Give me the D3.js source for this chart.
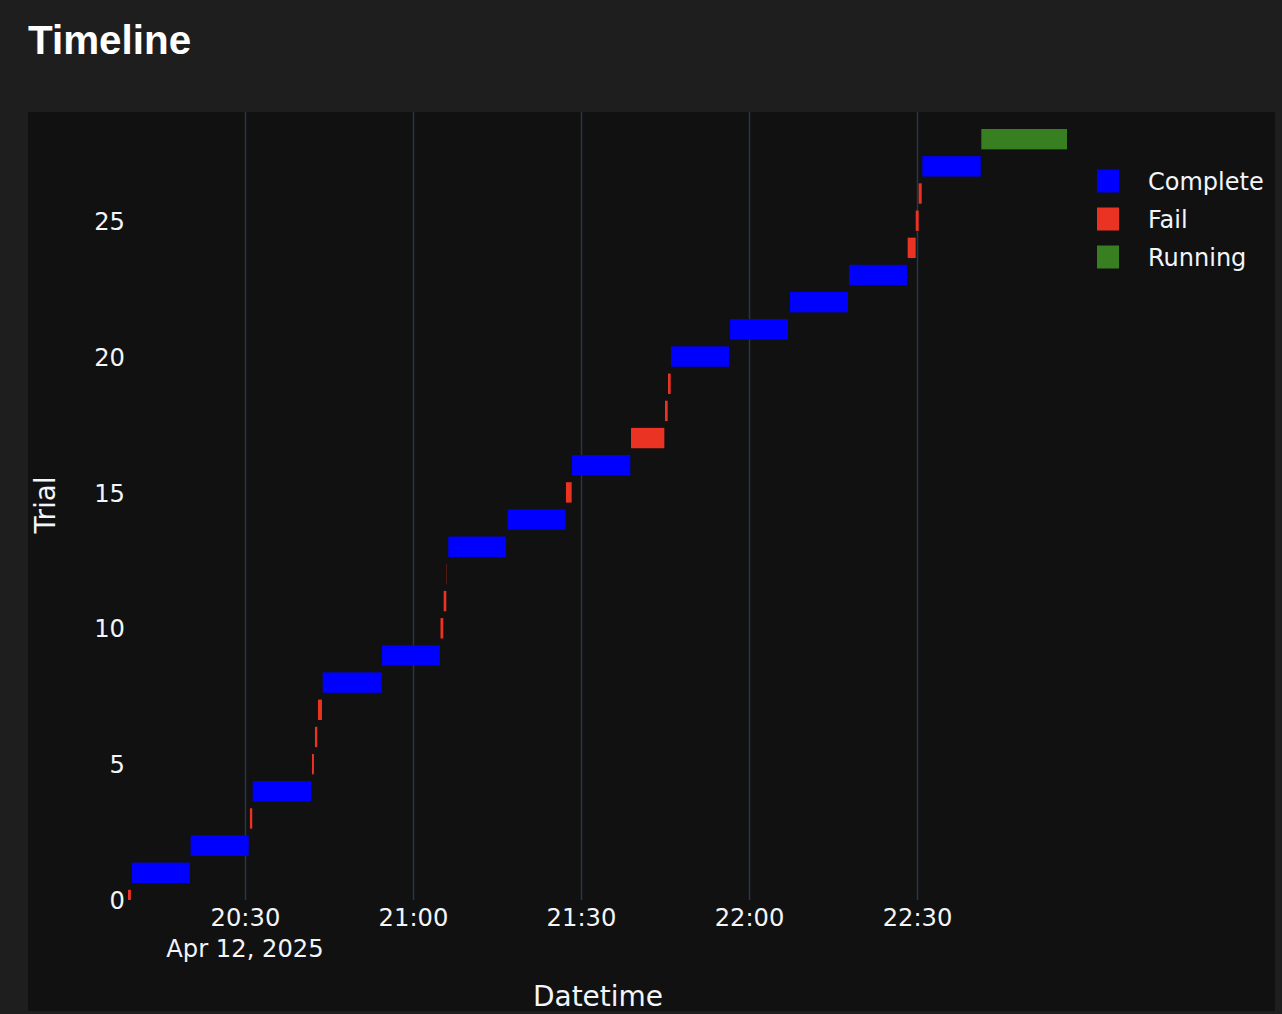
<!DOCTYPE html>
<html>
<head>
<meta charset="utf-8">
<script src="https://cdn.jsdelivr.net/npm/d3@7"></script>
<style>
  html, body { margin: 0; padding: 0; background: #1e1e1e; }
  svg { display: block; }
</style>
</head>
<body>
<svg id="chart"></svg>
<script>
// trial data (Apr 12, 2025)
const trials = d3.range(0, 29);
const states = ["Fail","Complete","Complete","Fail","Complete","Fail","Fail","Fail","Complete","Complete",
  "Fail","Fail","Fail","Complete","Complete","Fail","Complete","Fail","Fail","Fail",
  "Complete","Complete","Complete","Complete","Fail","Fail","Fail","Complete","Running"];
const starts = ["20:09:07","20:09:49","20:20:18","20:30:53","20:31:23","20:41:58","20:42:30","20:43:02","20:43:53","20:54:28",
  "21:04:55","21:05:29","21:05:58","21:06:18","21:16:55","21:27:19","21:28:23","21:38:56","21:45:00","21:45:32",
  "21:46:04","21:56:37","22:07:19","22:17:52","22:28:20","22:29:46","22:30:18","22:30:57","22:41:29"];
const ends = ["20:09:38","20:20:11","20:30:40","20:31:18","20:41:50","20:42:19","20:42:55","20:43:45","20:54:25","21:04:49",
  "21:05:25","21:05:57","21:06:01","21:16:37","21:27:16","21:28:20","21:38:48","21:44:53","21:45:29","21:46:01",
  "21:56:26","22:06:58","22:17:41","22:28:13","22:29:46","22:30:18","22:30:50","22:41:23","22:56:47"];
const legendStates = ["Complete", "Fail", "Running"];
const stateColors = ["#0000ff", "#ea3323", "#387f22"];
const yTicks = [0, 5, 10, 15, 20, 25];
const xTickTimes = ["20:30", "21:00", "21:30", "22:00", "22:30"];

const day = "2025-04-12T";
const parse = d3.timeParse("%Y-%m-%dT%H:%M:%S");
const data = trials.map((t, i) => ({
  trial: t,
  state: states[i],
  start: parse(day + starts[i]),
  end: parse(day + ends[i])
}));

const W = 1282, H = 1014;
const paper = {x: 28, y: 112, w: 1247, h: 899};
const plot = {left: 128, right: 1067, top: 112, bottom: 900};
const font = "'DejaVu Sans', sans-serif";
const tickSize = 24.2;

const svg = d3.select("#chart").attr("width", W).attr("height", H);

svg.append("rect").attr("width", W).attr("height", H).attr("fill", "#1e1e1e");
svg.append("text")
    .attr("x", 28).attr("y", 54)
    .attr("fill", "#ffffff")
    .attr("font-family", "'Liberation Sans', Arial, sans-serif")
    .attr("font-weight", "bold")
    .attr("font-size", 40.4)
    .text("Timeline");

svg.append("rect")
    .attr("x", paper.x).attr("y", paper.y)
    .attr("width", paper.w).attr("height", paper.h)
    .attr("fill", "#111111");

const x = d3.scaleTime()
    .domain([data[0].start, d3.max(data, d => d.end)])
    .range([plot.left, plot.right]);
const y = d3.scaleLinear()
    .domain([0, 29])
    .range([plot.bottom, plot.top]);
const color = d3.scaleOrdinal().domain(legendStates).range(stateColors);

const chart = svg.append("g");
chart.append("clipPath").attr("id", "clip")
  .append("rect")
    .attr("x", plot.left - 30).attr("y", plot.top)
    .attr("width", plot.right - plot.left + 60).attr("height", plot.bottom - plot.top);

// vertical grid + x axis labels
const tickDates = xTickTimes.map(s => parse(day + s + ":00"));
chart.append("g")
  .selectAll("line")
  .data(tickDates)
  .enter().append("line")
    .attr("x1", d => Math.round(x(d)) + 0.5)
    .attr("x2", d => Math.round(x(d)) + 0.5)
    .attr("y1", plot.top)
    .attr("y2", plot.bottom)
    .attr("stroke", "#2a3444")
    .attr("stroke-width", 1.5);

const xAxis = d3.axisBottom(x)
    .tickValues(tickDates)
    .tickFormat(d3.timeFormat("%H:%M"))
    .tickSize(0)
    .tickPadding(0);
const gx = chart.append("g")
    .attr("transform", `translate(0, ${plot.bottom})`)
    .call(xAxis);
gx.select(".domain").remove();
gx.selectAll("text")
    .attr("y", 26)
    .attr("dy", 0)
    .attr("fill", "#f2f5fa")
    .attr("font-family", font)
    .attr("font-size", tickSize);
chart.append("text")
    .attr("x", x(tickDates[0])).attr("y", 957)
    .attr("text-anchor", "middle")
    .attr("fill", "#f2f5fa")
    .attr("font-family", font)
    .attr("font-size", tickSize)
    .text("Apr 12, 2025");

// y axis
const yAxis = d3.axisLeft(y).tickValues(yTicks).tickSize(0).tickPadding(3);
const gy = chart.append("g")
    .attr("transform", `translate(${plot.left}, 0)`)
    .call(yAxis);
gy.select(".domain").remove();
gy.selectAll("text")
    .attr("dy", "0.36em")
    .attr("fill", "#f2f5fa")
    .attr("font-family", font)
    .attr("font-size", tickSize);

// bars
const barH = 0.75;
chart.append("g")
    .attr("clip-path", "url(#clip)")
  .selectAll("rect")
  .data(data)
  .enter().append("rect")
    .attr("x", d => x(d.start))
    .attr("width", d => Math.max(0.3, x(d.end) - x(d.start)))
    .attr("y", d => y(d.trial + barH / 2))
    .attr("height", d => y(d.trial - barH / 2) - y(d.trial + barH / 2))
    .attr("fill", d => color(d.state));

// axis titles
chart.append("text")
    .attr("x", 598).attr("y", 1006)
    .attr("text-anchor", "middle")
    .attr("fill", "#f2f5fa")
    .attr("font-family", font)
    .attr("font-size", 28)
    .text("Datetime");
chart.append("text")
    .attr("transform", `translate(55, ${505}) rotate(-90)`)
    .attr("text-anchor", "middle")
    .attr("fill", "#f2f5fa")
    .attr("font-family", font)
    .attr("font-size", 28)
    .text("Trial");

// legend
const legend = chart.append("g")
  .selectAll("g")
  .data(legendStates)
  .enter().append("g")
    .attr("transform", (d, i) => `translate(1097, ${181 + i * 38})`);
legend.append("rect")
    .attr("x", 0).attr("y", -11.5)
    .attr("width", 22).attr("height", 23)
    .attr("fill", d => color(d));
legend.append("text")
    .attr("x", 51).attr("y", 8.5)
    .attr("fill", "#f2f5fa")
    .attr("font-family", font)
    .attr("font-size", 24)
    .text(d => d);
</script>
</body>
</html>
